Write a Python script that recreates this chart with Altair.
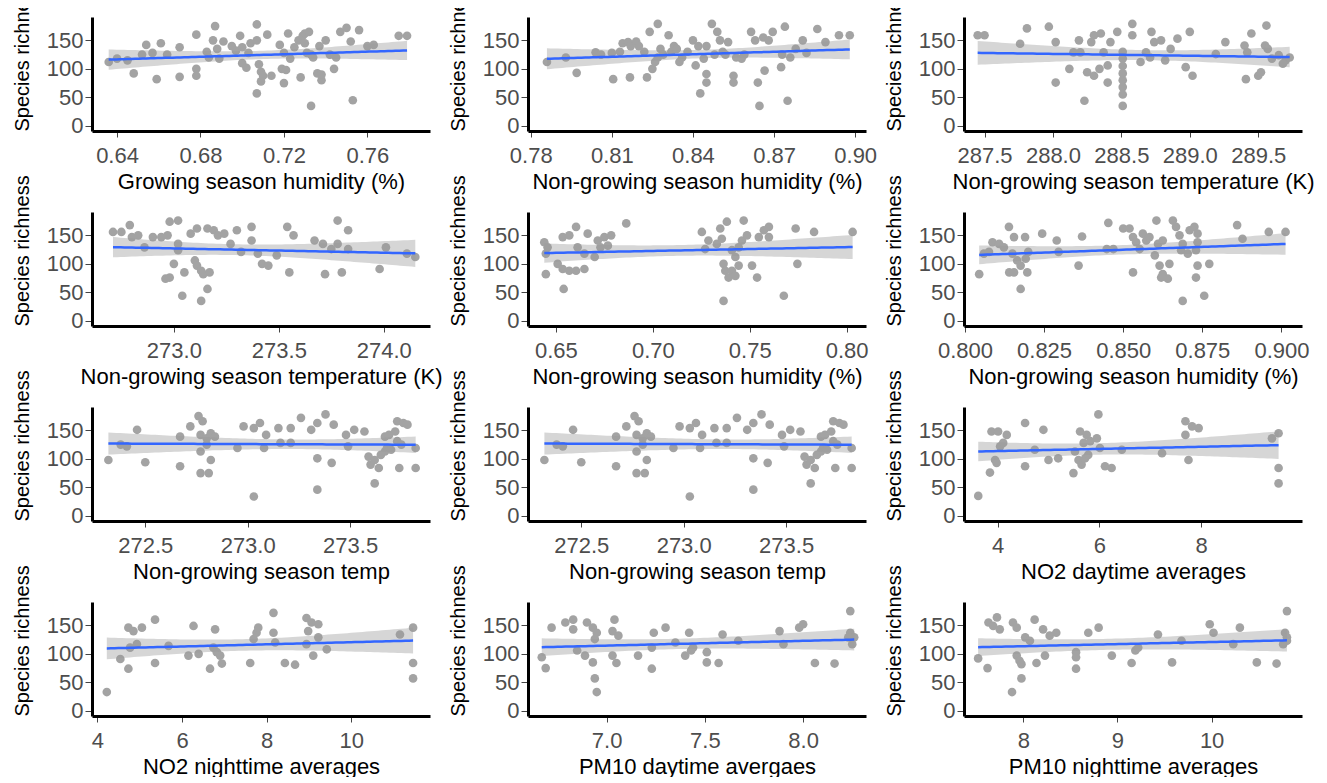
import altair as alt
import numpy as np
import pandas as pd

Y_TITLE = "Species richness"
Y_TICKS = [0, 50, 100, 150]

# Panel 1: Growing season humidity (%)
p1_pts = [(0.636,112),(0.640,118),(0.645,115),(0.648,92),(0.652,125),(0.654,142),(0.657,128),(0.659,82),
          (0.661,145),(0.664,125),(0.670,138),(0.670,86),(0.678,160),(0.678,100),(0.678,88),(0.683,130),
          (0.684,120),(0.686,150),(0.687,175),(0.688,135),(0.689,118),(0.691,148),(0.695,140),(0.697,132),
          (0.699,158),(0.700,138),(0.700,110),(0.702,102),(0.703,128),(0.704,145),(0.707,150),(0.707,178),
          (0.707,57),(0.708,108),(0.709,95),(0.709,78),(0.710,88),(0.712,160),(0.714,88),(0.718,142),
          (0.719,100),(0.720,128),(0.720,75),(0.721,98),(0.722,162),(0.723,118),(0.725,138),(0.727,150),
          (0.728,85),(0.729,158),(0.730,162),(0.730,145),(0.731,128),(0.732,165),(0.733,125),(0.733,35),
          (0.734,120),(0.736,92),(0.737,140),(0.738,80),(0.738,90),(0.740,150),(0.742,125),(0.744,100),
          (0.745,120),(0.747,165),(0.750,172),(0.752,148),(0.753,45),(0.756,168),(0.760,140),(0.763,142),
          (0.775,158),(0.779,158)]

# Panel 2: Non-growing season humidity (%)
p2_pts = [(0.786,112),(0.793,120),(0.797,93),(0.804,129),(0.806,125),(0.810,128),(0.8105,82),(0.813,130),
          (0.814,145),(0.816,147),(0.817,140),(0.8167,85),(0.819,148),(0.820,140),(0.822,130),(0.823,85),
          (0.824,165),(0.825,100),(0.826,112),(0.827,179),(0.827,120),(0.828,135),(0.829,125),(0.831,159),
          (0.832,130),(0.833,140),(0.834,135),(0.835,112),(0.836,120),(0.838,130),(0.840,150),(0.841,106),
          (0.842,140),(0.8427,57),(0.844,118),(0.845,91),(0.845,76),(0.845,140),(0.847,179),(0.848,125),
          (0.849,165),(0.850,150),(0.851,130),(0.852,125),(0.853,147),(0.855,88),(0.855,76),(0.856,120),
          (0.858,118),(0.859,125),(0.8615,165),(0.863,150),(0.864,76),(0.8646,35),(0.866,155),(0.8665,97),
          (0.868,150),(0.8695,165),(0.873,125),(0.8726,103),(0.874,174),(0.875,44),(0.876,120),(0.878,135),
          (0.8806,150),(0.882,128),(0.886,170),(0.889,147),(0.894,159),(0.898,159)]

# Panel 3: Non-growing season temperature (K), 287.5-289.5
p3_pts = [(287.45,159),(287.50,159),(287.76,144),(287.81,171),(287.97,174),(288.02,147),(288.02,76),
          (288.12,100),(288.15,129),(288.20,129),(288.19,150),(288.23,44),(288.25,94),(288.30,88),
          (288.28,147),(288.30,159),(288.35,162),(288.34,100),(288.40,76),(288.37,129),(288.42,147),
          (288.47,165),(288.40,106),(288.51,130),(288.51,118),(288.51,105),(288.51,92),(288.51,80),
          (288.51,68),(288.51,55),(288.51,35),(288.58,179),(288.58,159),(288.64,112),(288.68,129),
          (288.72,165),(288.74,147),(288.71,120),(288.79,150),(288.82,115),(288.86,135),(288.91,153),
          (288.97,103),(289.02,88),(289.00,165),(289.19,126),(289.26,147),(289.40,141),(289.42,129),
          (289.41,82),(289.50,88),(289.52,94),(289.45,162),(289.56,176),(289.55,141),(289.57,135),
          (289.60,118),(289.65,124),(289.70,115),(289.73,120),(289.68,109)]

# Panel 4: Non-growing season temperature (K), 273.0-274.0
p4_pts = [(272.71,156),(272.75,156),(272.79,168),(272.80,147),(272.83,150),(272.86,129),(272.90,147),
          (272.94,147),(272.97,150),(272.96,74),(272.98,76),(273.00,100),(272.98,174),(273.02,176),
          (273.02,135),(273.02,124),(273.05,85),(273.04,44),(273.08,153),(273.11,162),(273.10,106),
          (273.11,97),(273.13,88),(273.14,82),(273.17,85),(273.13,35),(273.16,56),(273.16,162),
          (273.19,159),(273.21,150),(273.24,153),(273.27,135),(273.30,159),(273.32,121),(273.37,165),
          (273.37,141),(273.40,118),(273.42,100),(273.45,97),(273.49,115),(273.54,165),(273.55,85),
          (273.57,150),(273.67,141),(273.71,135),(273.72,82),(273.75,126),(273.78,135),(273.78,176),
          (273.80,85),(273.83,159),(273.83,126),(273.98,91),(274.01,129),(274.11,118),(274.15,112)]

# Panel 5: Non-growing season humidity (%), 0.65-0.80
p5_pts = [(0.644,138),(0.6457,129),(0.6448,82),(0.6448,118),(0.6509,100),(0.6535,91),(0.6569,88),
          (0.6604,88),(0.6647,91),(0.654,56),(0.6535,147),(0.6569,150),(0.6604,165),(0.6612,129),
          (0.6647,118),(0.670,112),(0.6664,153),(0.6716,141),(0.675,147),(0.6785,150),(0.673,129),
          (0.6768,132),(0.6863,171),(0.7253,156),(0.727,126),(0.7287,141),(0.733,135),(0.7356,144),
          (0.7348,162),(0.7382,174),(0.7365,100),(0.7374,88),(0.7391,76),(0.7408,88),(0.7426,79),
          (0.7443,97),(0.7365,35),(0.7408,124),(0.7426,112),(0.7443,129),(0.7469,176),(0.746,141),
          (0.7486,150),(0.7512,97),(0.7538,76),(0.7547,147),(0.7573,159),(0.7599,165),(0.7599,147),
          (0.7676,44),(0.7737,162),(0.7746,100),(0.7832,156),(0.8031,156)]

# Panel 6: Non-growing season humidity (%), 0.800-0.900
p6_pts = [(0.8045,82),(0.806,118),(0.8076,121),(0.8087,138),(0.8108,135),(0.8123,129),(0.8139,165),
          (0.8140,85),(0.8155,85),(0.8150,118),(0.8165,106),(0.8176,97),(0.8192,109),(0.8155,147),
          (0.8190,147),(0.8176,56),(0.8197,85),(0.8200,121),(0.8244,153),(0.8290,141),(0.8296,121),
          (0.8359,97),(0.8370,148),(0.8453,172),(0.8448,126),(0.8469,126),(0.8500,162),(0.8520,162),
          (0.8531,147),(0.8541,138),(0.8552,126),(0.8562,153),(0.8573,141),(0.8583,147),(0.8531,85),
          (0.8605,176),(0.8600,115),(0.8615,97),(0.8625,82),(0.8641,74),(0.8646,100),(0.8620,76),
          (0.8610,135),(0.8625,141),(0.8657,176),(0.8667,165),(0.8678,150),(0.8688,135),(0.8683,124),
          (0.8704,118),(0.8688,35),(0.8710,159),(0.8725,165),(0.8735,153),(0.8735,138),(0.8730,124),
          (0.8735,97),(0.8730,76),(0.8756,44),(0.8772,100),(0.8860,168),(0.8877,144),(0.8960,156),
          (0.9013,156)]

# Panels 7 and 8: Non-growing season temp
p7_pts = [(272.32,98),(272.38,125),(272.41,122),(272.46,151),(272.50,94),(272.67,139),(272.67,87),
          (272.72,157),(272.76,175),(272.78,166),(272.77,75),(272.81,75),(272.77,113),(272.77,142),
          (272.80,136),(272.82,145),(272.84,139),(272.80,125),(272.82,98),(272.95,119),(272.98,157),
          (273.03,34),(273.03,154),(273.06,163),(273.08,119),(273.09,142),(273.15,154),(273.16,128),
          (273.21,154),(273.21,128),(273.26,172),(273.31,151),(273.34,163),(273.34,101),(273.34,46),
          (273.38,178),(273.41,93),(273.42,160),(273.48,142),(273.49,122),(273.52,151),(273.57,148),
          (273.59,104),(273.60,90),(273.62,98),(273.64,84),(273.62,57),(273.65,107),(273.67,113),
          (273.68,119),(273.70,116),(273.67,139),(273.69,142),(273.72,148),(273.73,166),(273.76,163),
          (273.73,131),(273.75,125),(273.74,84),(273.78,160),(273.82,119),(273.82,84)]

# Panel 9: NO2 daytime averages
p9_pts = [(3.62,35),(3.85,76),(3.88,148),(4.01,148),(3.95,98),(3.98,93),(4.05,122),(4.11,128),
          (4.18,142),(4.54,163),(4.54,87),(4.73,116),(4.90,151),(5.00,98),(5.19,101),(5.49,75),
          (5.52,113),(5.59,98),(5.65,90),(5.72,101),(5.78,107),(5.62,148),(5.75,142),(5.69,128),
          (5.82,131),(5.98,178),(5.95,136),(6.01,119),(6.11,87),(6.24,84),(6.44,116),(7.23,110),
          (7.69,166),(7.69,142),(7.75,98),(7.82,157),(7.95,154),(9.39,136),(9.52,145),(9.52,84),
          (9.52,57)]

# Panel 10: NO2 nighttime averages
p10_pts = [(4.22,33),(4.54,91),(4.73,74),(4.73,146),(4.85,140),(5.05,146),(4.77,111),(4.93,117),
           (5.36,160),(5.36,84),(5.68,114),(6.15,97),(6.39,100),(6.27,149),(6.66,74),(6.78,143),
           (6.74,111),(6.82,103),(6.90,97),(6.94,83),(7.61,84),(7.69,126),(7.76,137),(7.80,146),
           (8.16,172),(8.16,137),(8.20,120),(8.43,84),(8.67,81),(8.94,163),(9.06,155),(9.22,152),
           (8.98,140),(8.94,117),(9.10,97),(9.22,129),(9.42,108),(11.15,134),(11.46,146),(11.46,84),
           (11.46,57)]

# Panel 11: PM10 daytime avergaes
p11_pts = [(6.67,94),(6.69,75),(6.72,146),(6.79,155),(6.83,160),(6.83,143),(6.85,106),(6.90,155),
           (6.93,146),(6.89,97),(6.93,85),(6.94,57),(6.95,33),(6.94,126),(6.95,137),(7.04,160),
           (7.03,140),(7.06,132),(7.03,97),(7.05,84),(7.16,97),(7.23,74),(7.23,111),(7.24,137),
           (7.30,146),(7.35,120),(7.40,97),(7.43,106),(7.42,137),(7.44,111),(7.51,103),(7.51,85),
           (7.57,84),(7.59,134),(7.67,123),(7.88,140),(7.90,117),(7.98,146),(8.00,152),(8.06,84),
           (8.16,83),(8.24,175),(8.24,137),(8.25,117),(8.26,129),(8.23,129)]

# Panel 12: PM10 nighttime averages
p12_pts = [(7.52,92),(7.62,75),(7.63,155),(7.68,149),(7.72,164),(7.75,143),(7.89,155),(7.93,146),
           (7.93,97),(7.96,88),(7.98,82),(7.88,33),(7.98,57),(8.02,129),(8.07,123),(8.12,160),
           (8.14,84),(8.21,143),(8.28,132),(8.23,97),(8.35,137),(8.56,103),(8.56,94),(8.56,74),
           (8.69,137),(8.80,146),(8.94,97),(9.15,84),(9.19,106),(9.22,111),(9.43,134),(9.58,85),
           (9.68,123),(9.98,152),(10.02,137),(10.23,117),(10.30,146),(10.48,85),(10.69,83),(10.80,175),
           (10.78,137),(10.80,123),(10.80,129),(10.76,117)]

panels = [
    (p1_pts, "Growing season humidity (%)", [0.628, 0.790], [0.64, 0.68, 0.72, 0.76], ".2f"),
    (p2_pts, "Non-growing season humidity (%)", [0.779, 0.904], [0.78, 0.81, 0.84, 0.87, 0.90], ".2f"),
    (p3_pts, "Non-growing season temperature (K)", [287.35, 289.82], [287.5, 288.0, 288.5, 289.0, 289.5], ".1f"),
    (p4_pts, "Non-growing season temperature (K)", [272.61, 274.22], [273.0, 273.5, 274.0], ".1f"),
    (p5_pts, "Non-growing season humidity (%)", [0.6356, 0.810], [0.65, 0.70, 0.75, 0.80], ".2f"),
    (p6_pts, "Non-growing season humidity (%)", [0.7997, 0.9065], [0.800, 0.825, 0.850, 0.875, 0.900], ".3f"),
    (p7_pts, "Non-growing season temp", [272.24, 273.89], [272.5, 273.0, 273.5], ".1f"),
    (p7_pts, "Non-growing season temp", [272.24, 273.89], [272.5, 273.0, 273.5], ".1f"),
    (p9_pts, "NO2 daytime averages", [3.34, 9.98], [4, 6, 8], "d"),
    (p10_pts, "NO2 nighttime averages", [3.87, 11.86], [4, 6, 8, 10], "d"),
    (p11_pts, "PM10 daytime avergaes", [6.6, 8.32], [7.0, 7.5, 8.0], ".1f"),
    (p12_pts, "PM10 nighttime averages", [7.37, 10.96], [8, 9, 10], "d"),
]


def t975(df):
    z = 1.959964
    return z + (z**3 + z) / (4 * df) + (5 * z**5 + 16 * z**3 + 3 * z) / (96 * df**2)


def fit_band(xs, ys, n=80):
    x = np.asarray(xs, float)
    y = np.asarray(ys, float)
    b, a = np.polyfit(x, y, 1)
    resid = y - (a + b * x)
    dfree = len(x) - 2
    s = np.sqrt((resid**2).sum() / dfree)
    xbar = x.mean()
    sxx = ((x - xbar) ** 2).sum()
    g = np.linspace(x.min(), x.max(), n)
    yh = a + b * g
    se = s * np.sqrt(1 / len(x) + (g - xbar) ** 2 / sxx)
    t = t975(dfree)
    return pd.DataFrame({"x": g, "fit": yh, "lo": yh - t * se, "hi": yh + t * se})


def panel(pts, title, domain, ticks, fmt):
    df = pd.DataFrame(pts, columns=["x", "y"])
    fit = fit_band(df["x"], df["y"])
    xs = alt.Scale(domain=domain, nice=False, zero=False)
    ys = alt.Scale(domain=[-9, 191], nice=False, zero=False)
    xa = alt.Axis(title=title, values=ticks, format=fmt)
    ya = alt.Axis(title=Y_TITLE, values=Y_TICKS, titleAnchor="start")
    points = alt.Chart(df).mark_circle(size=75, color="#a3a3a3", opacity=1).encode(
        x=alt.X("x:Q", scale=xs, axis=xa),
        y=alt.Y("y:Q", scale=ys, axis=ya),
    )
    band = alt.Chart(fit).mark_area(color="#999999", opacity=0.4).encode(
        x=alt.X("x:Q", scale=xs, axis=xa),
        y=alt.Y("lo:Q", scale=ys, axis=ya),
        y2="hi:Q",
    )
    line = alt.Chart(fit).mark_line(color="#3366FF", strokeWidth=2.5).encode(
        x=alt.X("x:Q", scale=xs, axis=xa),
        y=alt.Y("fit:Q", scale=ys, axis=ya),
    )
    return alt.layer(points, band, line).properties(width=338, height=114)


charts = [panel(*p) for p in panels]

chart = alt.concat(
    *charts, columns=3, spacing={"row": 81, "column": 98}, bounds="flush"
).configure_axis(
    grid=False,
    domainColor="black",
    domainWidth=3,
    tickColor="#444444",
    tickWidth=1,
    labelFont="Liberation Sans",
    labelFontSize=22,
    labelColor="#4d4d4d",
    labelFlush=False,
    titleFont="Liberation Sans",
    titleFontSize=22,
    titleFontWeight="normal",
    titleColor="black",
).configure_axisX(
    tickSize=6, labelPadding=8, titlePadding=5
).configure_axisY(
    tickSize=7, labelPadding=2, titlePadding=14, titleFontSize=20
).configure_view(
    stroke=None
).properties(
    padding={"top": -29, "bottom": 0, "left": 4, "right": 5}
)

chart.save("out.html", embed_options={"renderer": "svg", "actions": False})
